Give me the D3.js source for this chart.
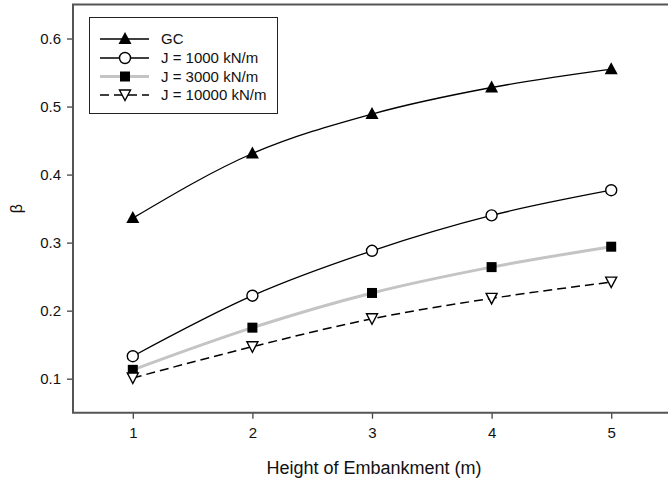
<!DOCTYPE html>
<html>
<head>
<meta charset="utf-8">
<script src="https://cdn.jsdelivr.net/npm/d3@7"></script>
<style>
  body { margin: 0; background: #fff; }
  text { font-family: "Liberation Sans", Arial, sans-serif; fill: #111; }
</style>
</head>
<body>
<div id="chart-area"></div>
<script>
// data
var heights = [1, 2, 3, 4, 5];
var gc = [0.336, 0.431, 0.489, 0.528, 0.555];
var j1000 = [0.133, 0.222, 0.288, 0.340, 0.377];
var j3000 = [0.113, 0.175, 0.226, 0.264, 0.294];
var j10000 = [0.101, 0.147, 0.188, 0.218, 0.242];
var seriesNames = ["GC", "J = 1000 kN/m", "J = 3000 kN/m", "J = 10000 kN/m"];
var yTicks = [0.1, 0.2, 0.3, 0.4, 0.5, 0.6];

var width = 668,
	height = 483;
var margin = {top: 4.5, left: 73, bottom: 70.3};

var svg = d3.select("#chart-area").append("svg")
	.attr("width", width).attr("height", height);

var x = d3.scaleLinear().domain([0.5, 5.5]).range([margin.left, 671]);
var y = d3.scaleLinear().domain([0.05, 0.65]).range([height - margin.bottom, margin.top]);

// styles per series
var styles = [
	{values: gc, stroke: "#000", width: 1.3, dash: null, marker: "triUp"},
	{values: j1000, stroke: "#000", width: 1.3, dash: null, marker: "circle"},
	{values: j3000, stroke: "#c4c4c4", width: 3, dash: null, marker: "square"},
	{values: j10000, stroke: "#000", width: 1.5, dash: "9,5", marker: "triDown"}
];

function drawMarker(g, type, cx, cy) {
	if (type == "triUp") {
		g.append("path").attr("d", "M" + cx + "," + (cy - 7) + "L" + (cx + 6.5) + "," + (cy + 5) + "L" + (cx - 6.5) + "," + (cy + 5) + "Z")
			.attr("fill", "#000");
	} else if (type == "circle") {
		g.append("circle").attr("cx", cx).attr("cy", cy).attr("r", 5.5)
			.attr("fill", "#fff").attr("stroke", "#000").attr("stroke-width", 1.4);
	} else if (type == "square") {
		g.append("rect").attr("x", cx - 5).attr("y", cy - 5).attr("width", 10).attr("height", 10)
			.attr("fill", "#000");
	} else {
		g.append("path").attr("d", "M" + (cx - 5.5) + "," + (cy - 5) + "L" + (cx + 5.5) + "," + (cy - 5) + "L" + cx + "," + (cy + 5.5) + "Z")
			.attr("fill", "#fff").attr("stroke", "#000").attr("stroke-width", 1.4);
	}
}

var line = d3.line()
	.x(function(d) { return x(d[0]); })
	.y(function(d) { return y(d[1]); })
	.curve(d3.curveMonotoneX);

styles.forEach(function(s) {
	var pts = heights.map(function(h, i) { return [h, s.values[i]]; });
	svg.append("path")
		.attr("d", line(pts))
		.attr("fill", "none")
		.attr("stroke", s.stroke)
		.attr("stroke-width", s.width)
		.attr("stroke-dasharray", s.dash);
	var g = svg.append("g");
	pts.forEach(function(p) { drawMarker(g, s.marker, x(p[0]), y(p[1])); });
});

// axes
var xAxis = d3.axisBottom(x).tickValues(heights).tickSize(6).tickPadding(9).tickFormat(d3.format("d"));
var yAxis = d3.axisLeft(y).tickValues(yTicks).tickSize(6).tickPadding(6).tickFormat(d3.format(".1f"));

svg.append("g")
	.attr("transform", "translate(0," + y(0.05) + ")")
	.call(xAxis);
svg.append("g")
	.attr("transform", "translate(" + margin.left + ",0)")
	.call(yAxis);
svg.selectAll(".domain").remove();
svg.selectAll(".tick line").attr("stroke", "#444").attr("stroke-width", 1.3);
svg.selectAll(".tick text").attr("font-size", 15).attr("fill", "#111")
	.style("font-family", "'Liberation Sans', Arial, sans-serif");

// frame: left, bottom, top
svg.append("path")
	.attr("d", "M" + 671 + "," + margin.top + "H" + margin.left + "V" + y(0.05) + "H" + 671)
	.attr("fill", "none").attr("stroke", "#555").attr("stroke-width", 2);

// axis labels
svg.append("text")
	.attr("x", (margin.left + 671) / 2 + 2)
	.attr("y", 474)
	.attr("text-anchor", "middle")
	.attr("font-size", 18)
	.text("Height of Embankment (m)");
svg.append("text")
	.attr("transform", "translate(22," + ((margin.top + y(0.05)) / 2) + ") rotate(-90)")
	.attr("text-anchor", "middle")
	.attr("font-size", 16)
	.text("β");

// legend
var legend = svg.append("g");
legend.append("rect")
	.attr("x", 89.5).attr("y", 17.5).attr("width", 188).attr("height", 96)
	.attr("fill", "#fff").attr("stroke", "#222").attr("stroke-width", 1);
var rowY = [39, 58, 76.5, 95];
styles.forEach(function(s, i) {
	legend.append("line")
		.attr("x1", 100).attr("x2", 149).attr("y1", rowY[i]).attr("y2", rowY[i])
		.attr("stroke", s.stroke).attr("stroke-width", s.width)
		.attr("stroke-dasharray", s.dash);
	drawMarker(legend, s.marker, 125, rowY[i]);
	legend.append("text")
		.attr("x", 161).attr("y", rowY[i] + 5)
		.attr("font-size", 15)
		.text(seriesNames[i]);
});
</script>
</body>
</html>
